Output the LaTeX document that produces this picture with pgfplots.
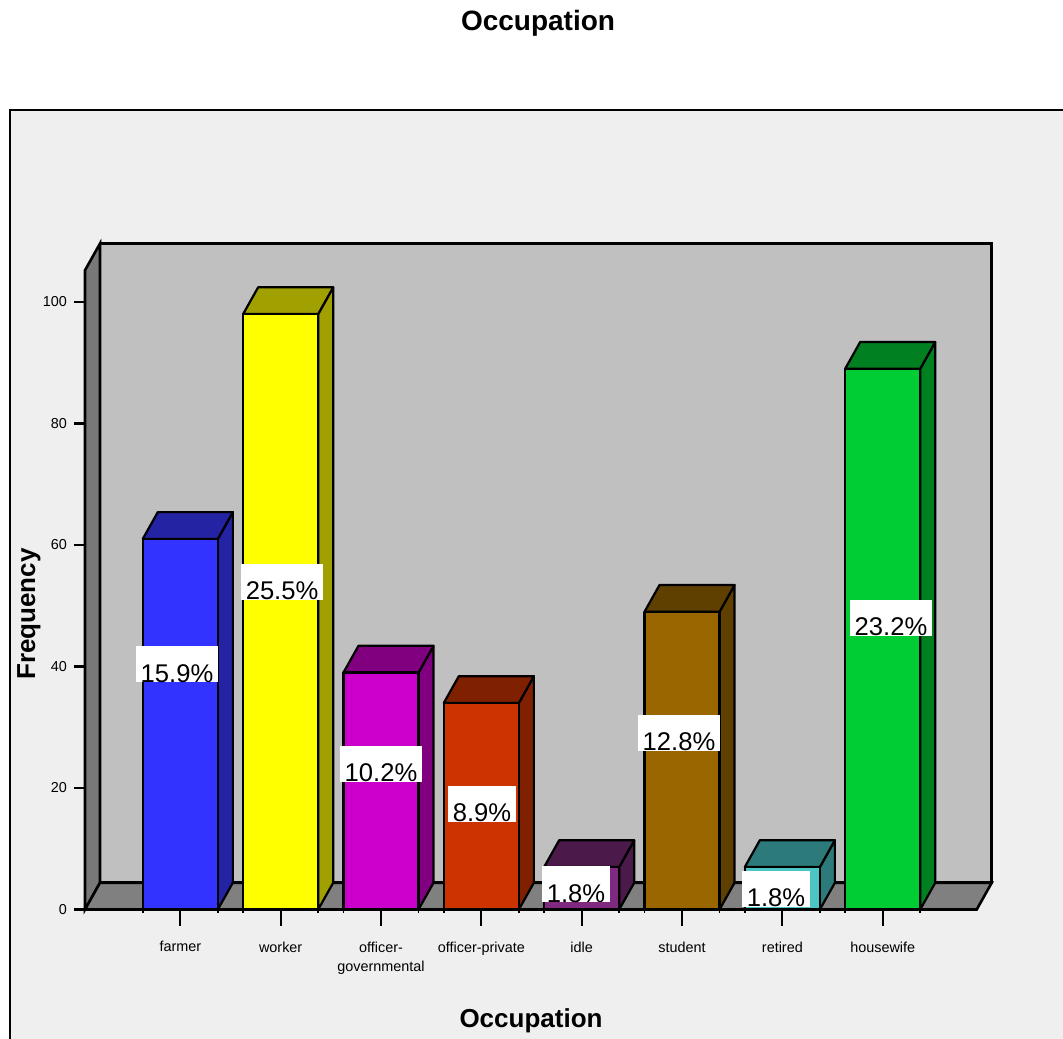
\documentclass[border=0pt]{standalone}
\usepackage{pgfplots}
\pgfplotsset{compat=1.18}
\usepackage{pgfplotstable}
\usepackage{fontspec}
\setmainfont{Liberation Sans}

% front colours and the darker shade used on top and side faces
\definecolor{bar0}{HTML}{3333FF}\definecolor{bar0d}{HTML}{2323A3}
\definecolor{bar1}{HTML}{FFFF00}\definecolor{bar1d}{HTML}{A0A000}
\definecolor{bar2}{HTML}{CC00CC}\definecolor{bar2d}{HTML}{800080}
\definecolor{bar3}{HTML}{CC3300}\definecolor{bar3d}{HTML}{7F2000}
\definecolor{bar4}{HTML}{802980}\definecolor{bar4d}{HTML}{4B1A4B}
\definecolor{bar5}{HTML}{996600}\definecolor{bar5d}{HTML}{5F4000}
\definecolor{bar6}{HTML}{4CC5C5}\definecolor{bar6d}{HTML}{2D7A7A}
\definecolor{bar7}{HTML}{00CC33}\definecolor{bar7d}{HTML}{008020}
\definecolor{panel}{HTML}{EFEFEF}
\definecolor{backwall}{HTML}{C0C0C0}
\definecolor{sidewall}{HTML}{787878}
\definecolor{floorgray}{HTML}{808080}

% frequency per occupation, with the position of its percentage label
\pgfplotstableread{
x freq lx ly pct
0 61 -0.033 37.3 15.9
1 98 1.014 50.9 25.5
2 39 2.000 21.0 10.2
3 34 3.007 14.4 8.9
4 7 3.944 1.1 1.8
5 49 4.970 26.1 12.8
6 7 5.937 0.4 1.8
7 89 7.083 45.0 23.2
}\occupation

% faces of one bar: x = i + a, y = s*freq + b
\pgfplotstableread{
a s b
-0.374 0 0
0.374 0 0
0.374 1 0
-0.374 1 0
}\frontface
\pgfplotstableread{
a s b
-0.374 1 0
0.374 1 0
0.5235 1 4.4
-0.2245 1 4.4
}\topface
\pgfplotstableread{
a s b
0.374 1 0
0.5235 1 4.4
0.5235 0 4.4
0.374 0 0
}\sideface

\begin{document}
\begin{tikzpicture}[x=0.5pt,y=0.5pt]
\useasboundingbox (0,0) rectangle (1063,1038);
\fill[white] (0,0) rectangle (1063,1038);
\begin{scope}
\clip (0,0) rectangle (1063,1038);
\filldraw[fill=panel,draw=black,line width=1pt] (9.5,928) rectangle (1100,-60);
\end{scope}

\node[font=\fontsize{14}{16}\selectfont\bfseries,anchor=base] at (538,1007) {Occupation};
\node[font=\fontsize{13}{15}\selectfont\bfseries,anchor=base] at (531,11) {Occupation};
\node[font=\fontsize{13}{15}\selectfont\bfseries,rotate=90,anchor=base] at (35,424) {Frequency};

\begin{axis}[
  at={(42.5pt,64.25pt)}, anchor=south west,
  scale only axis, width=445.85pt, height=319.6pt,
  xmin=-0.95, xmax=7.937, ymin=0, ymax=105.2,
  clip=false,
  axis line style={draw=none},
  tick align=outside, xtick pos=bottom, ytick pos=left,
  xtick={0,...,7},
  xticklabels={farmer,worker,{officer-\\governmental},officer-private,idle,student,retired,housewife},
  minor xtick={-0.374,0.374,0.626,1.374,1.626,2.374,2.626,3.374,3.626,4.374,4.626,5.374,5.626,6.374,6.626,7.374},
  ytick=\empty,
  extra y ticks={0,20,40,60,80,100},
  extra y tick style={major tick length=5.5pt},
  major tick length=8pt, minor tick length=1.5pt,
  every tick/.style={black,line width=1.1pt},
  minor tick style={black,line width=0.8pt},
  /pgf/number format/assume math mode=true,
  tick label style={font=\fontsize{7.2}{9.5}\selectfont},
  xticklabel style={align=center,yshift=-4.5pt},
]
\addplot[fill=backwall,draw=black,line width=1.3pt] coordinates
  {(-0.8005,4.4) (8.0865,4.4) (8.0865,109.6) (-0.8005,109.6)} -- cycle;
\addplot[fill=sidewall,draw=black,line width=1.3pt] coordinates
  {(-0.95,0) (-0.8005,4.4) (-0.8005,109.6) (-0.95,105.2)} -- cycle;
\addplot[fill=floorgray,draw=black,line width=1.3pt] coordinates
  {(-0.95,0) (7.937,0) (8.0865,4.4) (-0.8005,4.4)} -- cycle;

\pgfplotsinvokeforeach{0,...,7}{
  \pgfplotstablegetelem{#1}{freq}\of\occupation
  \let\barval=\pgfplotsretval
  \addplot[fill=bar#1d,draw=black,line width=1.1pt,line join=round]
    table[x expr=#1+\thisrow{a},y expr=\thisrow{s}*\barval+\thisrow{b}] {\sideface} -- cycle;
  \addplot[fill=bar#1d,draw=black,line width=1.1pt,line join=round]
    table[x expr=#1+\thisrow{a},y expr=\thisrow{s}*\barval+\thisrow{b}] {\topface} -- cycle;
  \addplot[fill=bar#1,draw=black,line width=1.1pt,line join=round]
    table[x expr=#1+\thisrow{a},y expr=\thisrow{s}*\barval+\thisrow{b}] {\frontface} -- cycle;
}

\addplot[draw=none,mark=none,point meta=explicit symbolic,
  nodes near coords={\pgfplotspointmeta\%},
  nodes near coords style={anchor=south,fill=white,inner xsep=2.5pt,inner ysep=0pt,
    text height=18pt,text depth=0pt,font=\fontsize{12.8}{14}\selectfont,text=black}]
  table[x=lx,y=ly,meta=pct] {\occupation};
\end{axis}
\end{tikzpicture}
\end{document}
